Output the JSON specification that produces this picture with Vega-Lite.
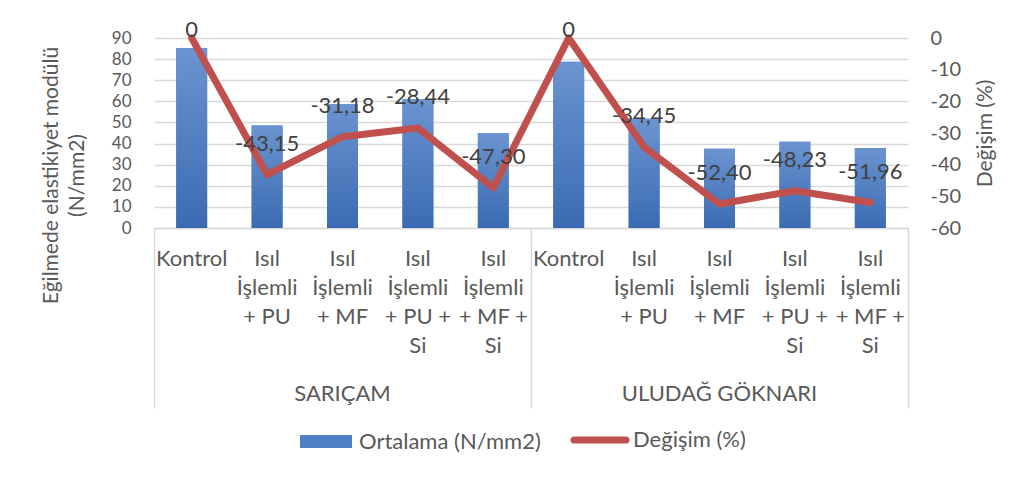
{
  "$schema": "https://vega.github.io/schema/vega-lite/v6.json",
  "width": 754,
  "height": 190,
  "autosize": {"type": "none"},
  "padding": {"left": 154, "top": 38, "right": 118, "bottom": 252},
  "background": "white",
  "config": {
    "font": "Lato",
    "view": {"stroke": null},
    "locale": {"number": {"decimal": ",", "thousands": ".", "grouping": [3], "currency": ["", ""], "minus": "-"}},
    "axis": {"labelFont": "Lato", "labelFontSize": 22, "labelColor": "#595959", "titleFont": "Lato", "titleFontSize": 21, "titleColor": "#595959", "titleFontWeight": "normal", "labelOverlap": false},
    "legend": {"labelFont": "Lato", "labelFontSize": 22, "labelColor": "#595959", "padding": 0, "labelLimit": 0}
  },
  "data": {
    "values": [
      {"group": "SARIÇAM", "key": "SARIÇAM|Kontrol", "mean": 85.3, "change": 0},
      {"group": "SARIÇAM", "key": "SARIÇAM|Isıl|İşlemli|+ PU", "mean": 48.5, "change": -43.15},
      {"group": "SARIÇAM", "key": "SARIÇAM|Isıl|İşlemli|+ MF", "mean": 58.7, "change": -31.18},
      {"group": "SARIÇAM", "key": "SARIÇAM|Isıl|İşlemli|+ PU +|Si", "mean": 61.0, "change": -28.44},
      {"group": "SARIÇAM", "key": "SARIÇAM|Isıl|İşlemli|+ MF +|Si", "mean": 45.0, "change": -47.30},
      {"group": "ULUDAĞ GÖKNARI", "key": "ULUDAĞ GÖKNARI|Kontrol", "mean": 78.8, "change": 0},
      {"group": "ULUDAĞ GÖKNARI", "key": "ULUDAĞ GÖKNARI|Isıl|İşlemli|+ PU", "mean": 51.7, "change": -34.45},
      {"group": "ULUDAĞ GÖKNARI", "key": "ULUDAĞ GÖKNARI|Isıl|İşlemli|+ MF", "mean": 37.5, "change": -52.40},
      {"group": "ULUDAĞ GÖKNARI", "key": "ULUDAĞ GÖKNARI|Isıl|İşlemli|+ PU +|Si", "mean": 40.8, "change": -48.23},
      {"group": "ULUDAĞ GÖKNARI", "key": "ULUDAĞ GÖKNARI|Isıl|İşlemli|+ MF +|Si", "mean": 37.9, "change": -51.96}
    ]
  },
  "layer": [
    {
      "mark": {"type": "bar", "width": {"band": 0.41}},
      "encoding": {
        "x": {
          "field": "key", "type": "nominal", "sort": null,
          "scale": {"domain": ["SARIÇAM|Kontrol", "SARIÇAM|Isıl|İşlemli|+ PU", "SARIÇAM|Isıl|İşlemli|+ MF", "SARIÇAM|Isıl|İşlemli|+ PU +|Si", "SARIÇAM|Isıl|İşlemli|+ MF +|Si", "ULUDAĞ GÖKNARI|Kontrol", "ULUDAĞ GÖKNARI|Isıl|İşlemli|+ PU", "ULUDAĞ GÖKNARI|Isıl|İşlemli|+ MF", "ULUDAĞ GÖKNARI|Isıl|İşlemli|+ PU +|Si", "ULUDAĞ GÖKNARI|Isıl|İşlemli|+ MF +|Si"], "paddingInner": 0, "paddingOuter": 0},
          "axis": {"orient": "bottom", "title": null, "ticks": false, "domain": true, "domainColor": "#d9d9d9", "domainWidth": 1.5, "grid": false, "labelAngle": 0, "labelAlign": "center", "labelBaseline": "top", "labelPadding": 20, "labelLineHeight": 29, "labelLimit": 0, "labelExpr": "slice(split(datum.value, '|'), 1)"}
        },
        "y": {
          "field": "mean", "type": "quantitative",
          "scale": {"domain": [0, 90], "nice": false, "zero": true},
          "axis": {"orient": "left", "values": [0, 10, 20, 30, 40, 50, 60, 70, 80, 90], "labelOverlap": false, "labelFontSize": 17, "ticks": false, "domain": false, "grid": true, "gridColor": "#d9d9d9", "gridWidth": 1.5, "labelPadding": 23, "title": ["Eğilmede elastikiyet modülü", "(N/mm2)"], "titlePadding": 24, "titleLineHeight": 26, "titleY": 137}
        },
        "color": {
          "datum": "Ortalama (N/mm2)", "type": "nominal",
          "scale": {"domain": ["Ortalama (N/mm2)", "Değişim (%)"], "range": ["#4f7fc4", "#c0504d"]},
          "legend": {
            "orient": "none", "legendX": 161, "legendY": 391, "direction": "horizontal", "title": null,
            "symbolSize": 2704, "labelOffset": 22, "columnPadding": 19,
            "encode": {"symbols": {"update": {
              "shape": {"signal": "datum.value === 'Değişim (%)' ? 'stroke' : 'M-1,-0.25H1V0.25H-1Z'"},
              "strokeWidth": {"signal": "datum.value === 'Değişim (%)' ? 7 : 0"},
              "stroke": {"signal": "datum.value === 'Değişim (%)' ? '#c0504d' : 'transparent'"},
              "strokeCap": {"value": "round"}
            }}}
          }
        }
      }
    },
    {
      "mark": {"type": "bar", "width": {"band": 0.41}, "color": {"gradient": "linear", "x1": 0, "y1": 0, "x2": 0, "y2": 1, "stops": [{"offset": 0, "color": "#6b94d0"}, {"offset": 1, "color": "#3a6bb2"}]}},
      "encoding": {
        "x": {
          "field": "key", "type": "nominal", "sort": null,
          "scale": {"domain": ["SARIÇAM|Kontrol", "SARIÇAM|Isıl|İşlemli|+ PU", "SARIÇAM|Isıl|İşlemli|+ MF", "SARIÇAM|Isıl|İşlemli|+ PU +|Si", "SARIÇAM|Isıl|İşlemli|+ MF +|Si", "ULUDAĞ GÖKNARI|Kontrol", "ULUDAĞ GÖKNARI|Isıl|İşlemli|+ PU", "ULUDAĞ GÖKNARI|Isıl|İşlemli|+ MF", "ULUDAĞ GÖKNARI|Isıl|İşlemli|+ PU +|Si", "ULUDAĞ GÖKNARI|Isıl|İşlemli|+ MF +|Si"], "paddingInner": 0, "paddingOuter": 0},
          "axis": null
        },
        "y": {"field": "mean", "type": "quantitative", "scale": {"domain": [0, 90], "nice": false, "zero": true}, "axis": null}
      }
    },
    {
      "mark": {"type": "line", "strokeWidth": 7, "strokeJoin": "round", "strokeCap": "round"},
      "encoding": {
        "x": {
          "field": "key", "type": "nominal", "sort": null,
          "scale": {"domain": ["SARIÇAM|Kontrol", "SARIÇAM|Isıl|İşlemli|+ PU", "SARIÇAM|Isıl|İşlemli|+ MF", "SARIÇAM|Isıl|İşlemli|+ PU +|Si", "SARIÇAM|Isıl|İşlemli|+ MF +|Si", "ULUDAĞ GÖKNARI|Kontrol", "ULUDAĞ GÖKNARI|Isıl|İşlemli|+ PU", "ULUDAĞ GÖKNARI|Isıl|İşlemli|+ MF", "ULUDAĞ GÖKNARI|Isıl|İşlemli|+ PU +|Si", "ULUDAĞ GÖKNARI|Isıl|İşlemli|+ MF +|Si"], "paddingInner": 0, "paddingOuter": 0},
          "axis": {"orient": "bottom", "title": null, "values": ["SARIÇAM|Kontrol", "ULUDAĞ GÖKNARI|Kontrol"], "bandPosition": 0, "ticks": true, "tickSize": 180, "tickColor": "#d9d9d9", "tickWidth": 1.5, "labels": false, "domain": false, "grid": false}
        },
        "y": {
          "field": "change", "type": "quantitative",
          "scale": {"domain": [-60, 0], "nice": false, "zero": false},
          "axis": {"orient": "right", "values": [-60, -50, -40, -30, -20, -10, 0], "labelOverlap": false, "labelFontSize": 20, "ticks": false, "domain": false, "grid": false, "labelPadding": 22, "labelAlign": "left", "title": "Değişim (%)", "titleAngle": 270, "titlePadding": 35}
        },
        "color": {"datum": "Değişim (%)", "type": "nominal"}
      }
    },
    {
      "transform": [{"filter": "datum.change != 0"}],
      "mark": {"type": "text", "dy": -31, "fontSize": 22, "font": "Lato", "color": "#404040", "baseline": "middle", "align": "center"},
      "encoding": {
        "x": {
          "field": "key", "type": "nominal", "sort": null,
          "scale": {"domain": ["SARIÇAM|Kontrol", "SARIÇAM|Isıl|İşlemli|+ PU", "SARIÇAM|Isıl|İşlemli|+ MF", "SARIÇAM|Isıl|İşlemli|+ PU +|Si", "SARIÇAM|Isıl|İşlemli|+ MF +|Si", "ULUDAĞ GÖKNARI|Kontrol", "ULUDAĞ GÖKNARI|Isıl|İşlemli|+ PU", "ULUDAĞ GÖKNARI|Isıl|İşlemli|+ MF", "ULUDAĞ GÖKNARI|Isıl|İşlemli|+ PU +|Si", "ULUDAĞ GÖKNARI|Isıl|İşlemli|+ MF +|Si"], "paddingInner": 0, "paddingOuter": 0},
          "axis": {"orient": "bottom", "title": null, "values": ["SARIÇAM|Isıl|İşlemli|+ MF", "ULUDAĞ GÖKNARI|Isıl|İşlemli|+ MF"], "ticks": false, "domain": false, "grid": false, "labelAngle": 0, "labelAlign": "center", "labelBaseline": "middle", "labelPadding": 165, "labelLimit": 0, "labelExpr": "split(datum.value, '|')[0]"}
        },
        "y": {"field": "change", "type": "quantitative", "scale": {"domain": [-60, 0], "nice": false, "zero": false}, "axis": null},
        "text": {"field": "change", "type": "quantitative", "format": ".2f"}
      }
    },
    {
      "transform": [{"filter": "datum.change == 0"}],
      "mark": {"type": "text", "dy": -8, "fontSize": 22, "font": "Lato", "color": "#404040", "baseline": "middle", "align": "center"},
      "encoding": {
        "x": {
          "field": "key", "type": "nominal", "sort": null,
          "scale": {"domain": ["SARIÇAM|Kontrol", "SARIÇAM|Isıl|İşlemli|+ PU", "SARIÇAM|Isıl|İşlemli|+ MF", "SARIÇAM|Isıl|İşlemli|+ PU +|Si", "SARIÇAM|Isıl|İşlemli|+ MF +|Si", "ULUDAĞ GÖKNARI|Kontrol", "ULUDAĞ GÖKNARI|Isıl|İşlemli|+ PU", "ULUDAĞ GÖKNARI|Isıl|İşlemli|+ MF", "ULUDAĞ GÖKNARI|Isıl|İşlemli|+ PU +|Si", "ULUDAĞ GÖKNARI|Isıl|İşlemli|+ MF +|Si"], "paddingInner": 0, "paddingOuter": 0},
          "axis": {"orient": "bottom", "title": null, "values": ["ULUDAĞ GÖKNARI|Isıl|İşlemli|+ MF +|Si"], "bandPosition": 1, "ticks": true, "tickSize": 180, "tickColor": "#d9d9d9", "tickWidth": 1.5, "labels": false, "domain": false, "grid": false}
        },
        "y": {"field": "change", "type": "quantitative", "scale": {"domain": [-60, 0], "nice": false, "zero": false}, "axis": null},
        "text": {"field": "change", "type": "quantitative", "format": "d"}
      }
    }
  ],
  "resolve": {"scale": {"y": "independent"}, "axis": {"x": "independent"}}
}
